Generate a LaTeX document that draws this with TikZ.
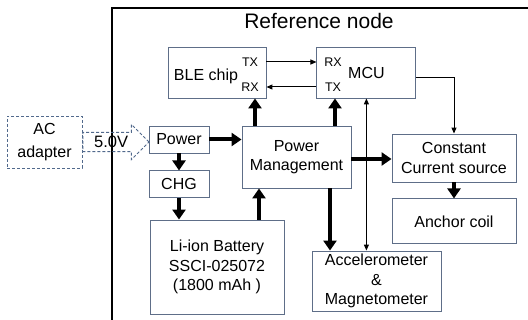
\documentclass[tikz,border=0pt]{standalone}
\usepackage{fontspec}
\setmainfont{Liberation Sans}
\usetikzlibrary{arrows.meta, positioning, shapes.arrows}
\definecolor{edgec}{HTML}{5E6E88}
\definecolor{adapc}{HTML}{51698C}

\begin{document}
\begin{tikzpicture}[
  x=1pt, y=-1pt,
  node distance=16pt and 50pt,
  blk/.style={draw=edgec, line width=0.9pt, fill=white, align=center, inner sep=0pt,
    font=\fontsize{16}{19.5}\selectfont},
  dsh/.style={draw=adapc, line width=0.9pt, dash pattern=on 3pt off 2pt},
  port/.style={inner sep=0pt, font=\fontsize{12.5}{14}\selectfont},
  pwr/.style={-{Triangle[length=10pt,width=13pt]}, line width=4pt},
  sig/.style={-{Triangle[length=6pt,width=5pt]}, line width=1pt}
]
\useasboundingbox (0,0) rectangle (528,320);
\clip (0,0) rectangle (528,320);

% outer frame runs off the page on the right and at the bottom
\draw[line width=2pt] (112,8) rectangle (560,360);
\node[font=\fontsize{21}{24}\selectfont] (title) at (319,21) {Reference node};

% radio and controller
\node[blk, minimum width=98pt, minimum height=51pt] (ble) at (217,72.5) {};
\node[inner sep=0pt, font=\fontsize{16}{19.5}\selectfont] (blename) at (206,76) {BLE chip};
\node[port] (bletx) at (250,62) {TX};
\node[port] (blerx) at (250,87) {RX};
\node[blk, minimum width=99pt, minimum height=51pt, right=of ble] (mcu) {MCU};
\node[port] (mcurx) at (333,62) {RX};
\node[port] (mcutx) at (333,87) {TX};

% supply chain
\node[blk, minimum width=60pt, minimum height=27pt] (power) at (179,139.5) {Power};
\node[blk, minimum width=60pt, minimum height=27pt, below=17pt of power] (chg) {CHG};
\node[blk, minimum width=134pt, minimum height=94pt] (bat) at (217,267)
  {Li-ion Battery\\SSCI-025072\\(1800 mAh )};
\node[blk, minimum width=109pt, minimum height=62pt] (pm) at (296.5,157) {Power\\Management};

% loads
\node[blk, minimum width=124pt, minimum height=48pt] (ccs) at (454,158) {Constant\\Current source};
\node[blk, minimum width=124pt, minimum height=45pt, below=of ccs] (coil) {Anchor coil};
\node[blk, minimum width=129pt, minimum height=60pt] (acc) at (376.5,281)
  {Accelerometer\\\&\\Magnetometer};

% outside supply
\node[blk, dsh, minimum width=75pt, minimum height=52pt, font=\fontsize{16}{23}\selectfont]
  (ac) at (44.5,142) {AC\\adapter};
\node[single arrow, dsh, single arrow head extend=8pt, minimum height=66pt,
  inner xsep=2pt, inner ysep=3.3pt, anchor=tail, font=\fontsize{16.5}{18}\selectfont]
  (volt) at (ac.east) {5.0V};

% power paths
\draw[pwr] (power.east) -- (power.east -| pm.west);
\draw[pwr] (power.south) -- (chg.north);
\draw[pwr] (chg.south) -- (chg.south |- bat.north);
\draw[pwr] ([xshift=42pt]bat.north) -- ([xshift=42pt]bat.north |- pm.south);
\draw[pwr] ([xshift=-41.5pt]pm.north) -- ([xshift=-41.5pt]pm.north |- ble.south);
\draw[pwr] ([xshift=38.5pt]pm.north) -- ([xshift=38.5pt]pm.north |- mcu.south);
\draw[pwr] ([xshift=33.5pt]pm.south) -- ([xshift=33.5pt]pm.south |- acc.north);
\draw[pwr] ([yshift=-2pt]pm.east) -- ([yshift=-2pt]pm.east -| ccs.west);
\draw[pwr] (ccs.south) -- (coil.north);

% signals
\draw[sig] (ble.east |- bletx) -- (mcu.west |- mcurx);
\draw[sig] (mcu.west |- mcutx) -- (ble.east |- blerx);
\draw[sig, {Triangle[length=6pt,width=5pt]}-{Triangle[length=6pt,width=5pt]}]
  (mcu.south) -- (mcu.south |- acc.north);
\draw[sig] ([yshift=-5.5pt]mcu.east) -| (ccs.north);
\end{tikzpicture}
\end{document}
